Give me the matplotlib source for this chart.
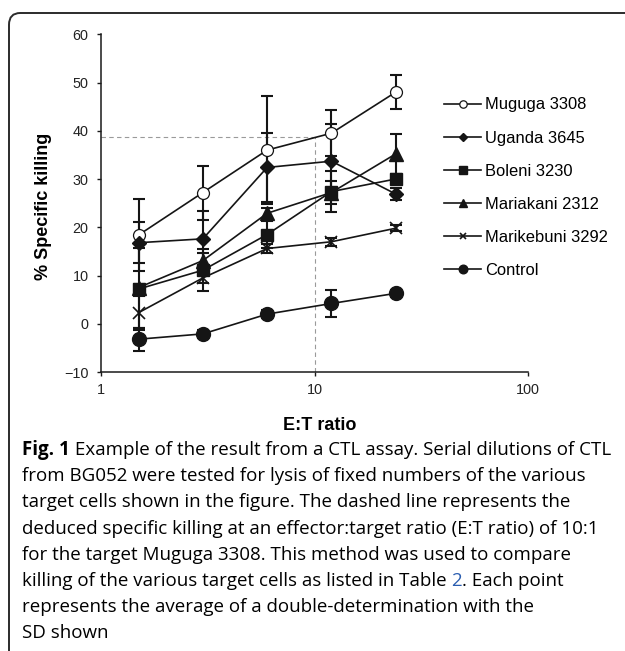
import matplotlib
matplotlib.use("Agg")
import matplotlib.pyplot as plt
from matplotlib.patches import FancyBboxPatch

# ---------------- data ----------------
ratios = [1.5, 3, 6, 12, 24]
series_names = ["Muguga 3308", "Uganda 3645", "Boleni 3230",
                "Mariakani 2312", "Marikebuni 3292", "Control"]
muguga = [18.4, 27.2, 36.0, 39.5, 48.0]
muguga_sd = [7.5, 5.6, 11.2, 4.8, 3.5]
uganda = [16.8, 17.6, 32.4, 33.7, 26.9]
uganda_sd = [4.2, 5.8, 7.1, 7.7, 1.2]
boleni = [7.2, 11.1, 18.5, 27.4, 30.0]
boleni_sd = [1.0, 4.3, 2.7, 4.3, 1.0]
mariakani = [7.5, 13.1, 22.9, 27.2, 35.2]
mariakani_sd = [8.3, 1.5, 1.0, 2.4, 4.1]
marikebuni = [2.3, 9.5, 15.6, 17.0, 19.8]
marikebuni_sd = [3.5, 1.0, 1.0, 0.8, 0.6]
control = [-3.2, -2.1, 2.0, 4.2, 6.3]
control_sd = [2.4, 0.8, 0.8, 2.7, 0.8]
deduced_ratio = 10
deduced_killing = 38.7
yticks = [-10, 0, 10, 20, 30, 40, 50, 60]
xticks = [1, 10, 100]
xticklabels = ["1", "10", "100"]

caption_lines = [
    [("Fig. 1", "bold", "k"), (" Example of the result from a CTL assay. Serial dilutions of CTL", "normal", "k")],
    [("from BG052 were tested for lysis of fixed numbers of the various", "normal", "k")],
    [("target cells shown in the figure. The dashed line represents the", "normal", "k")],
    [("deduced specific killing at an effector:target ratio (E:T ratio) of 10:1", "normal", "k")],
    [("for the target Muguga 3308. This method was used to compare", "normal", "k")],
    [("killing of the various target cells as listed in Table ", "normal", "k"), ("2", "normal", "#2a5db0"), (". Each point", "normal", "k")],
    [("represents the average of a double-determination with the", "normal", "k")],
    [("SD shown", "normal", "k")],
]

# ---------------- figure ----------------
W, H = 625, 651
fig = plt.figure(figsize=(W / 100, H / 100), dpi=100)
plt.rcParams['font.family'] = ['Liberation Sans', 'DejaVu Sans']

def fx(px):
    return px / W

def fy(py):
    return 1 - py / H

# rounded frame
frame = FancyBboxPatch((fx(9), fy(680)), fx(660), (680 - 13) / H,
                       boxstyle="round,pad=0,rounding_size=0.018",
                       transform=fig.transFigure, fill=False,
                       edgecolor="#2b2b2b", linewidth=1.4, clip_on=False)
fig.patches.append(frame)

ax = fig.add_axes([fx(101), fy(372), (528 - 101) / W, (372 - 34.3) / H])
ax.set_xscale("log")
ax.set_xlim(1, 100)
ax.set_ylim(-10, 60)

lc = "#151515"
styles = [
    dict(marker="o", ms=8.6, mfc="white", mec=lc, mew=0.9),
    dict(marker="D", ms=7.0, mfc=lc, mec=lc),
    dict(marker="s", ms=8.6, mfc=lc, mec=lc),
    dict(marker="^", ms=9.5, mfc=lc, mec=lc),
    dict(marker="x", ms=8.0, mfc=lc, mec=lc, mew=1.2),
    dict(marker="o", ms=10.0, mfc=lc, mec=lc),
]
values = [muguga, uganda, boleni, mariakani, marikebuni, control]
sds = [muguga_sd, uganda_sd, boleni_sd, mariakani_sd, marikebuni_sd, control_sd]

# dashed guide
ax.plot([1, deduced_ratio], [deduced_killing, deduced_killing], ls=(0, (4, 3)),
        color="#9a9a9a", lw=0.8, zorder=1)
ax.plot([deduced_ratio, deduced_ratio], [-10, deduced_killing], ls=(0, (4, 3)),
        color="#9a9a9a", lw=0.8, zorder=1)

handles = []
for name, v, sd, st in zip(series_names, values, sds, styles):
    ax.errorbar(ratios, v, yerr=sd, fmt="none", ecolor=lc, elinewidth=1.5,
                capsize=4.6, capthick=1.5, zorder=2)
    ln, = ax.plot(ratios, v, color=lc, lw=1.2, zorder=3, label=name, **st)
    handles.append(ln)

for s in ["top", "right"]:
    ax.spines[s].set_visible(False)
for s in ["left", "bottom"]:
    ax.spines[s].set_linewidth(1.1)
    ax.spines[s].set_color("#1a1a1a")

ax.set_yticks(yticks)
ax.set_xticks(xticks)
ax.set_xticklabels(xticklabels)
ax.xaxis.set_minor_locator(matplotlib.ticker.NullLocator())
ax.tick_params(axis="both", which="major", direction="out", length=3,
               width=1.0, labelsize=10.4, color="#1a1a1a", labelcolor="#222222")
ax.tick_params(axis="y", pad=6)
ax.tick_params(axis="x", pad=5)

ax.set_ylabel("% Specific killing", fontsize=13, fontweight="bold")
ax.yaxis.set_label_coords((52 - 101) / 427, 0.49)
fig.text(fx(320), fy(425), "E:T ratio", ha="center", va="center",
         fontsize=13, fontweight="bold")

leg = fig.legend(handles=handles, loc="upper left",
                 bbox_to_anchor=(fx(444), fy(97.5)), bbox_transform=fig.transFigure,
                 frameon=False, fontsize=11.9, handlelength=2.25,
                 handletextpad=0.25, labelspacing=1.09, borderpad=0,
                 borderaxespad=0, markerscale=0.62)

# caption
cap_font = ['Open Sans', 'DejaVu Sans']
cap_size = 13.5
renderer = fig.canvas.get_renderer()
y0 = 450
dy = 26.2
for i, line in enumerate(caption_lines):
    x = 22.0
    y = y0 + i * dy
    for txt, wt, col in line:
        t = fig.text(fx(x), fy(y), txt, ha="left", va="center", fontsize=cap_size,
                     fontweight=wt, color=col, family=cap_font)
        bb = t.get_window_extent(renderer=renderer)
        x += bb.width

fig.savefig("out.png", dpi=100)
